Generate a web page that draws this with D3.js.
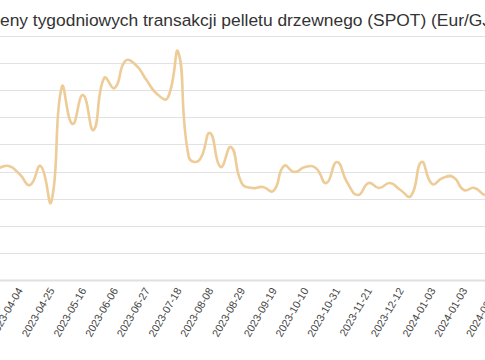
<!DOCTYPE html>
<html>
<head>
<meta charset="utf-8">
<script src="https://cdn.jsdelivr.net/npm/d3@7"></script>
<style>
  html, body { margin: 0; padding: 0; background: #fff; overflow: hidden; }
  svg { display: block; }
</style>
</head>
<body>
<svg id="chart" width="485" height="360"></svg>
<script>
const title = "Ceny tygodniowych transakcji pelletu drzewnego (SPOT) (Eur/GJ)";

const categories = [
  "2023-03-21","2023-03-28","2023-04-04","2023-04-11","2023-04-18","2023-04-25",
  "2023-05-02","2023-05-09","2023-05-16","2023-05-23","2023-05-30","2023-06-06",
  "2023-06-13","2023-06-20","2023-06-27","2023-07-04","2023-07-11","2023-07-18",
  "2023-07-25","2023-08-01","2023-08-08","2023-08-15","2023-08-22","2023-08-29",
  "2023-09-05","2023-09-12","2023-09-19","2023-09-26","2023-10-03","2023-10-10",
  "2023-10-17","2023-10-24","2023-10-31","2023-11-07","2023-11-14","2023-11-21",
  "2023-11-28","2023-12-05","2023-12-12","2023-12-19","2023-12-27","2024-01-03",
  "2024-01-10","2024-01-17","2024-01-03","2024-01-24","2024-01-31","2024-02-07"
];

const prices = [
  8.27, 8.41, 7.82, 7.02, 8.41, 5.77,
  14.22, 11.50, 13.63, 11.06, 14.88, 14.14,
  16.13, 15.83, 14.73, 13.70, 13.41, 16.79,
  9.07, 8.85, 10.84, 8.34, 9.81, 7.16,
  6.80, 6.87, 6.58, 8.41, 7.97, 8.34,
  8.27, 7.16, 8.71, 7.16, 6.28, 7.16,
  6.80, 7.16, 6.65, 6.21, 8.71, 7.09,
  7.53, 7.60, 6.65, 6.80, 6.28, 6.30
];

const yTicks = [0, 2, 4, 6, 8, 10, 12, 14, 16, 18];
const labelEvery = 3;
const labelOffset = 2;

const svg = d3.select("#chart");

// ECharts-like smoothing curve
function EchartsSmooth(context) { this._context = context; }
EchartsSmooth.prototype = {
  areaStart() { this._line = 0; },
  areaEnd() { this._line = NaN; },
  lineStart() { this._pts = []; },
  point(x, y) { this._pts.push([+x, +y]); },
  lineEnd() {
    const p = this._pts, c = this._context, s = 0.5, n = p.length;
    if (!n) return;
    c.moveTo(p[0][0], p[0][1]);
    const cps = p.map((pt, i) => {
      const prev = p[Math.max(0, i - 1)], next = p[Math.min(n - 1, i + 1)];
      const vx = next[0] - prev[0], vy = next[1] - prev[1];
      const l0 = Math.hypot(pt[0] - prev[0], pt[1] - prev[1]);
      const l1 = Math.hypot(next[0] - pt[0], next[1] - pt[1]);
      const r = (l0 + l1) ? l1 / (l0 + l1) : 0.5;
      return {
        inX: pt[0] - vx * s * (1 - r), inY: pt[1] - vy * s * (1 - r),
        outX: pt[0] + vx * s * r, outY: pt[1] + vy * s * r
      };
    });
    for (let i = 1; i < n; i++) {
      c.bezierCurveTo(cps[i-1].outX, cps[i-1].outY, cps[i].inX, cps[i].inY, p[i][0], p[i][1]);
    }
  }
};
const curveEcharts = ctx => new EchartsSmooth(ctx);

const idx = categories.map((d, i) => i);
const x = d3.scalePoint().domain(idx).range([-1.66, -1.66 + 10.58 * (categories.length - 1)]);
const y = d3.scaleLinear().domain([0, 18]).range([280.5, 35.5]);

// title
svg.append("text")
  .attr("x", -12.6).attr("y", 26)
  .attr("font-family", "Liberation Sans, Arial, sans-serif")
  .attr("font-size", 17.4)
  .attr("fill", "#333")
  .text(title);

// gridlines
svg.append("g")
  .selectAll("line")
  .data(yTicks.slice(1))
  .join("line")
  .attr("x1", 0).attr("x2", 485)
  .attr("y1", d => Math.round(y(d)) + 0.5)
  .attr("y2", d => Math.round(y(d)) + 0.5)
  .attr("stroke", "#e2e2e2")
  .attr("stroke-width", 1.2);

// x axis
const xAxis = d3.axisBottom(x)
  .tickSize(0)
  .tickPadding(8)
  .tickValues(idx.filter(i => (i - labelOffset) % labelEvery === 0))
  .tickFormat(i => categories[i]);

const gx = svg.append("g")
  .attr("transform", `translate(0,${y(0)})`)
  .call(xAxis);
gx.select(".domain").remove();
gx.append("line")
  .attr("x1", 0).attr("x2", 485).attr("y1", 0).attr("y2", 0)
  .attr("stroke", "#e0e0e0").attr("stroke-width", 2);
gx.selectAll(".tick text")
  .attr("font-family", "Liberation Sans, Arial, sans-serif")
  .attr("font-size", 10.7)
  .attr("fill", "#444")
  .attr("text-anchor", "end")
  .attr("dy", "0.35em")
  .attr("y", 0)
  .attr("transform", "translate(0,8) rotate(-60)");

// line
const line = d3.line()
  .x((d, i) => x(i))
  .y(d => y(d))
  .curve(curveEcharts);

svg.append("path")
  .datum(prices)
  .attr("d", line)
  .attr("fill", "none")
  .attr("stroke", "#edcc98")
  .attr("stroke-width", 2.6)
  .attr("stroke-linejoin", "round");
</script>
</body>
</html>
